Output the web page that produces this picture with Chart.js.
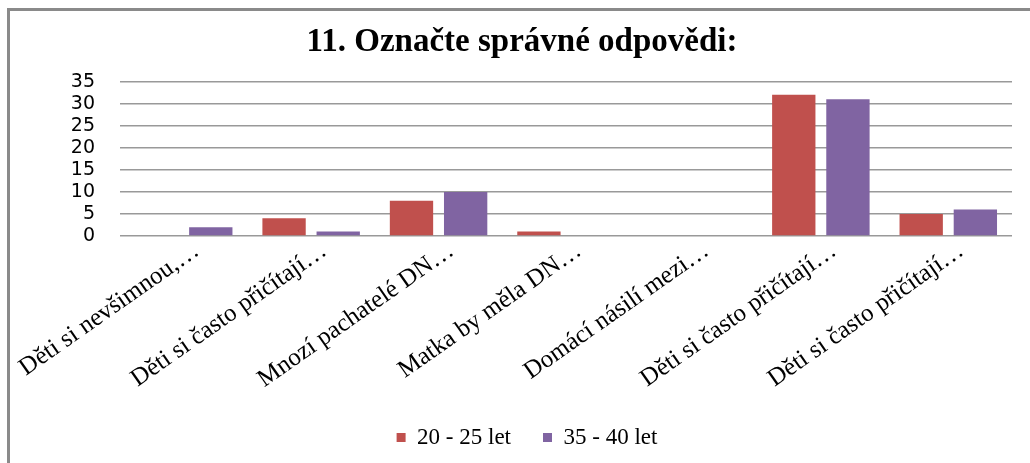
<!DOCTYPE html>
<html>
<head>
<meta charset="utf-8">
<script src="https://cdn.jsdelivr.net/npm/chart.js@4"></script>
<style>
  html, body { margin: 0; padding: 0; background: #fff; }
  #wrap { position: relative; width: 1030px; height: 463px; overflow: hidden; }
  #frame {
    position: absolute; left: 7px; top: 8px; width: 1040px; height: 480px;
    border-top: 3px solid #8a8a8a; border-left: 3px solid #8a8a8a;
  }
  #c { position: absolute; left: 0; top: 0; }
</style>
</head>
<body>
<div id="wrap">
  <div id="frame"></div>
  <canvas id="c" width="1030" height="463"></canvas>
</div>
<script>
// otázky (zkrácené popisky jako v originálu)
const categories = [
  "Děti si nevšimnou,…",
  "Děti si často přičítají…",
  "Mnozí pachatelé DN…",
  "Matka by měla DN…",
  "Domácí násilí mezi…",
  "Děti si často přičítají…",
  "Děti si často přičítají…"
];

const seriesNames = ["20 - 25 let", "35 - 40 let"];
const values2025 = [0, 4, 8, 1, 0, 32, 5];
const values3540 = [2, 1, 10, 0, 0, 31, 6];

const colors = ["#C0504D", "#8064A2"];
const yTicks = [0, 5, 10, 15, 20, 25, 30, 35];

// titulek i legenda jsou v originálu trochu posunuté doprava
const boxShift = {
  id: "boxShift",
  afterLayout(chart) {
    chart.legend.left += 21;
    chart.legend.right += 21;
    chart.titleBlock.left += 16;
    chart.titleBlock.right += 16;
  }
};

const chart = new Chart(document.getElementById("c"), {
  type: "bar",
  data: {
    labels: categories,
    datasets: [
      { label: seriesNames[0], data: values2025, backgroundColor: colors[0] },
      { label: seriesNames[1], data: values3540, backgroundColor: colors[1] }
    ]
  },
  plugins: [boxShift],
  options: {
    responsive: false,
    animation: false,
    layout: { padding: { left: 0, right: 18, top: 0, bottom: 4 } },
    datasets: { bar: { categoryPercentage: 0.85, barPercentage: 0.8 } },
    plugins: {
      title: {
        display: true,
        text: "11. Označte správné odpovědi:",
        color: "#000",
        font: { family: "Liberation Serif", size: 33, weight: "bold" },
        padding: { top: 23, bottom: 19 }
      },
      legend: {
        position: "bottom",
        labels: {
          color: "#000",
          font: { family: "Liberation Serif", size: 23 },
          boxWidth: 9,
          boxHeight: 9,
          padding: 32
        }
      },
      tooltip: { enabled: false }
    },
    scales: {
      x: {
        grid: { display: false, drawTicks: false },
        border: { display: false },
        ticks: {
          color: "#000",
          font: { family: "Liberation Serif", size: 25 },
          maxRotation: 35,
          minRotation: 35,
          autoSkip: false,
          padding: 0,
          labelOffset: 13
        },
        afterFit: (scale) => { scale.height = 158; }
      },
      y: {
        min: 0,
        max: 35,
        afterBuildTicks: (scale) => { scale.ticks = yTicks.map(v => ({ value: v })); },
        grid: { color: "#999", lineWidth: 1.5, drawTicks: false },
        border: { display: false },
        ticks: {
          color: "#000",
          font: { family: "DejaVu Sans", size: 19 },
          padding: 25,
          autoSkip: false
        },
        afterFit: (scale) => { scale.width = 120; }
      }
    }
  }
});
</script>
</body>
</html>
